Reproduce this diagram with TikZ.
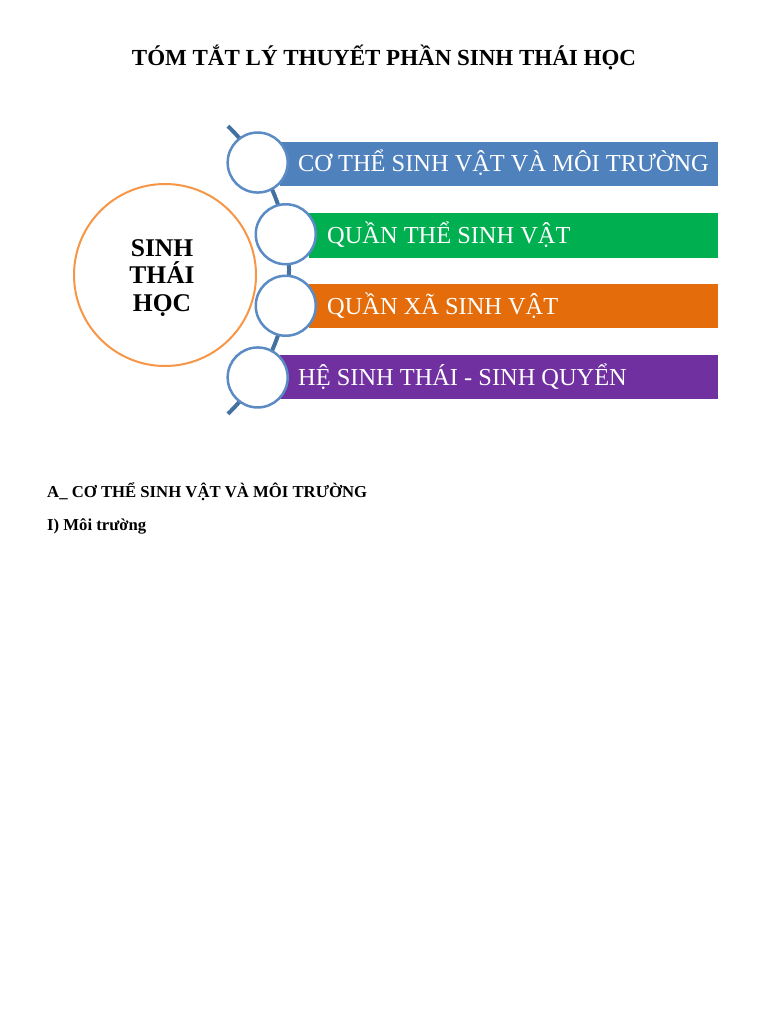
\documentclass[tikz,border=0pt]{standalone}
\usepackage{fontspec}
\setmainfont{Liberation Serif}
\usetikzlibrary{calc,positioning}
\definecolor{ecoblue}{RGB}{79,129,189}
\definecolor{ecogreen}{RGB}{0,176,80}
\definecolor{ecoorange}{RGB}{228,108,10}
\definecolor{ecopurple}{RGB}{112,48,160}
\definecolor{ecoring}{RGB}{247,150,70}
\definecolor{ecospine}{RGB}{68,114,160}
\definecolor{ecodot}{RGB}{91,139,197}

\begin{document}
\begin{tikzpicture}[x=1pt,y=1pt,
    bar/.style={anchor=west,minimum height=44pt,inner xsep=18pt,inner ysep=0pt,text height=16pt,text depth=0pt,text=white,font=\fontsize{24.4}{28}\selectfont},
    dot/.style={circle,draw=ecodot,line width=2.5pt,fill=white,minimum size=60pt,inner sep=0pt},
    heading/.style={anchor=base west,inner sep=0pt,font=\bfseries\fontsize{16.7}{20}\selectfont}]
  \fill[white] (0,0) rectangle (768,-1024);
  \useasboundingbox (0,0) rectangle (768,-1024);
  \node[anchor=base,font=\bfseries\fontsize{23}{28}\selectfont] (title) at (384,-66) {TÓM TẮT LÝ THUYẾT PHẦN SINH THÁI HỌC};
  % vong tron chinh
  \node[circle,draw=ecoring,line width=2pt,minimum size=182pt] (core) at (165,-275) {};
  \node[align=center,font=\bfseries\fontsize{25.5}{27.5}\selectfont] (coretext) at (162,-278) {SINH\\THÁI\\HỌC};
  % truc cong
  \coordinate (hub) at (89,-270);
  \draw[ecospine,line width=4pt] (hub) ++(46:200pt) arc[start angle=46,end angle=-46,radius=200pt];
  % cac thanh
  \node[bar,fill=ecoblue] (b1) at (280,-164) {\makebox[402pt][l]{CƠ THỂ SINH VẬT VÀ MÔI TRƯỜNG}};
  \node[bar,fill=ecogreen] (b2) at (309,-235.5) {\makebox[373pt][l]{QUẦN THỂ SINH VẬT}};
  \node[bar,fill=ecoorange] (b3) at (309,-306) {\makebox[373pt][l]{QUẦN XÃ SINH VẬT}};
  \node[bar,fill=ecopurple] (b4) at (280,-377) {\makebox[402pt][l]{HỆ SINH THÁI - SINH QUYỂN}};
  % vong tron nho
  \node[dot] (d1) at ($(hub)+(32.5:200pt)$) {};
  \node[dot] (d2) at ($(hub)+(10.3:200pt)$) {};
  \node[dot] (d3) at ($(hub)+(-10.3:200pt)$) {};
  \node[dot] (d4) at ($(hub)+(-32.5:200pt)$) {};
  % phan A
  \node[heading] (secA) at (47,-497) {A\_ CƠ THỂ SINH VẬT VÀ MÔI TRƯỜNG};
  \node[heading] (secI) at (47,-530) {I) Môi trường};
\end{tikzpicture}
\end{document}
